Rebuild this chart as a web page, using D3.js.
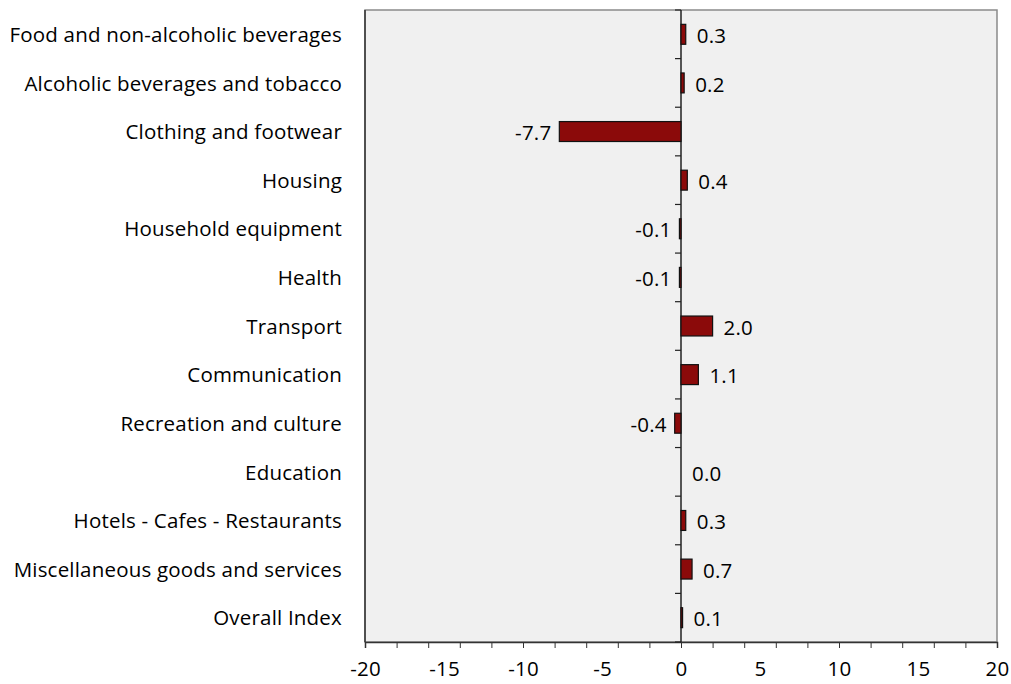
<!DOCTYPE html>
<html>
<head>
<meta charset="utf-8">
<script src="https://cdn.jsdelivr.net/npm/d3@7"></script>
<style>
  body { margin: 0; background: #fff; }
  svg text { font-family: "Open Sans", Lato, sans-serif; fill: #000; letter-spacing: 0.2px; }
</style>
</head>
<body>
<svg id="chart" width="1011" height="684"></svg>
<script>
// Annual change by CPI division (%)
const categories = [
  "Food and non-alcoholic beverages",
  "Alcoholic beverages and tobacco",
  "Clothing and footwear",
  "Housing",
  "Household equipment",
  "Health",
  "Transport",
  "Communication",
  "Recreation and culture",
  "Education",
  "Hotels - Cafes - Restaurants",
  "Miscellaneous goods and services",
  "Overall Index"
];
const values = [0.3, 0.2, -7.7, 0.4, -0.1, -0.1, 2.0, 1.1, -0.4, 0.0, 0.3, 0.7, 0.1];
const xTickLabels = [-20, -15, -10, -5, 0, 5, 10, 15, 20];
const xMinorTicks = d3.range(-20, 21, 2);

const svg = d3.select("#chart");
const plot = { left: 365, right: 997, top: 10, bottom: 642 };
const fontSize = 20.5;

const x = d3.scaleLinear().domain([-20, 20]).range([plot.left, plot.right]);
const y = d3.scaleBand().domain(categories).range([plot.top, plot.bottom]).paddingInner(0.59).paddingOuter(0.295);
const band = d3.scaleBand().domain(categories).range([plot.top, plot.bottom]);

// plot area
svg.append("rect")
  .attr("x", plot.left).attr("y", plot.top)
  .attr("width", plot.right - plot.left).attr("height", plot.bottom - plot.top)
  .attr("fill", "#f0f0f0").attr("stroke", "#8a8a8a").attr("stroke-width", 1.5);
svg.append("line")
  .attr("x1", plot.left).attr("x2", plot.left)
  .attr("y1", plot.top).attr("y2", plot.bottom)
  .attr("stroke", "#333").attr("stroke-width", 1.5);

// x axis: tick marks every 2, labels every 5
const gx = svg.append("g").attr("transform", `translate(0,${plot.bottom})`)
  .call(d3.axisBottom(x).tickValues(xMinorTicks).tickSize(6).tickFormat(""));
gx.select(".domain").attr("stroke", "#333").attr("stroke-width", 1.5);
gx.selectAll(".tick line").attr("stroke", "#333");

const gxl = svg.append("g").attr("transform", `translate(0,${plot.bottom})`)
  .call(d3.axisBottom(x).tickValues(xTickLabels).tickSize(0).tickFormat(d => String(d)));
gxl.select(".domain").remove();
gxl.selectAll(".tick text").attr("font-size", fontSize).attr("y", 34).attr("dy", 0);

// zero axis with category separators
const sepY = categories.map(c => band(c)).concat([plot.bottom]);
svg.append("line")
  .attr("x1", x(0)).attr("x2", x(0))
  .attr("y1", plot.top).attr("y2", plot.bottom)
  .attr("stroke", "#222").attr("stroke-width", 1.5);
svg.selectAll(".sep").data(sepY).join("line")
  .attr("x1", x(0) - 6).attr("x2", x(0))
  .attr("y1", d => d).attr("y2", d => d)
  .attr("stroke", "#222").attr("stroke-width", 1.2);

// bars
svg.selectAll(".bar").data(values).join("rect")
  .attr("x", d => x(Math.min(0, d)))
  .attr("y", (d, i) => y(categories[i]))
  .attr("width", d => Math.abs(x(d) - x(0)))
  .attr("height", y.bandwidth())
  .attr("fill", "#8b0a0a").attr("stroke", "#111").attr("stroke-width", 1.2);

// value labels
svg.selectAll(".val").data(values).join("text")
  .attr("x", d => d < 0 ? x(d) - 8 : x(d) + 11)
  .attr("y", (d, i) => band(categories[i]) + band.bandwidth() / 2 + 1.5)
  .attr("dy", "0.35em")
  .attr("text-anchor", d => d < 0 ? "end" : "start")
  .attr("font-size", fontSize)
  .text(d => d.toFixed(1));

// category labels
svg.selectAll(".cat").data(categories).join("text")
  .attr("x", 342)
  .attr("y", d => band(d) + band.bandwidth() / 2 + 0.5)
  .attr("dy", "0.35em")
  .attr("text-anchor", "end")
  .attr("font-size", fontSize)
  .text(d => d);
</script>
</body>
</html>
